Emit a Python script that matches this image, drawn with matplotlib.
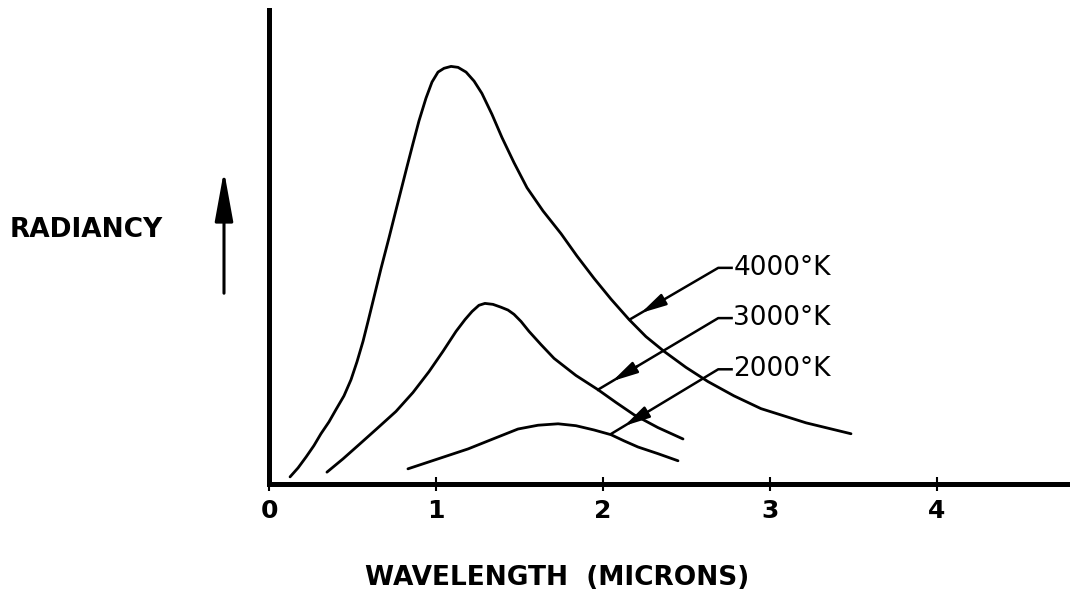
import matplotlib
matplotlib.use("Agg")
import matplotlib.pyplot as plt
from matplotlib.patches import FancyArrowPatch

# Curves: wavelength (microns) vs radiancy (arbitrary units)
wl_4000 = [0.126, 0.174, 0.222, 0.269, 0.311, 0.359, 0.401, 0.449, 0.491, 0.527,
           0.563, 0.593, 0.623, 0.671, 0.719, 0.754, 0.790, 0.826, 0.862, 0.898,
           0.940, 0.976, 1.012, 1.048, 1.090, 1.132, 1.180, 1.228, 1.275, 1.335,
           1.395, 1.467, 1.545, 1.641, 1.749, 1.844, 1.946, 2.048, 2.156, 2.257,
           2.365, 2.497, 2.629, 2.784, 2.946, 3.216, 3.485]
rad_4000 = [1.5, 3.4, 5.7, 8.1, 10.6, 13.1, 15.7, 18.6, 22.0, 25.8,
            30.1, 34.3, 38.6, 45.5, 52.0, 56.9, 61.9, 66.9, 71.8, 76.6,
            81.4, 84.8, 86.9, 87.7, 88.1, 87.9, 86.9, 85.0, 82.4, 78.0,
            73.1, 67.8, 62.5, 57.6, 52.8, 48.1, 43.4, 39.0, 34.7, 31.1,
            28.0, 24.6, 21.6, 18.6, 15.9, 12.9, 10.6]

wl_3000 = [0.347, 0.443, 0.539, 0.647, 0.760, 0.862, 0.958, 1.042, 1.120, 1.174,
           1.216, 1.257, 1.293, 1.341, 1.389, 1.431, 1.467, 1.509, 1.557, 1.629,
           1.707, 1.838, 1.970, 2.078, 2.186, 2.329, 2.479]
rad_3000 = [2.5, 5.3, 8.3, 11.7, 15.3, 19.3, 23.7, 28.0, 32.2, 34.7,
            36.4, 37.7, 38.1, 37.9, 37.3, 36.7, 35.8, 34.3, 32.2, 29.4,
            26.5, 22.9, 19.9, 17.2, 14.6, 11.9, 9.5]

wl_2000 = [0.832, 1.012, 1.192, 1.341, 1.491, 1.611, 1.731, 1.838, 1.946, 2.048,
           2.126, 2.210, 2.329, 2.449]
rad_2000 = [3.2, 5.3, 7.4, 9.5, 11.6, 12.4, 12.7, 12.3, 11.4, 10.4,
            9.1, 7.8, 6.4, 4.9]

labels = ["4000°K", "3000°K", "2000°K"]
label_tips = [(2.16, 34.7), (1.97, 19.9), (2.05, 10.6)]
label_y = [45.6, 35.0, 24.2]
xticks = [0, 1, 2, 3, 4]

INK = "black"

fig = plt.figure(figsize=(10.70, 5.98), dpi=100)
ax = fig.add_axes([269 / 1070, 114 / 598, 801 / 1070, 474 / 598])

for wl, rad in [(wl_4000, rad_4000), (wl_3000, rad_3000), (wl_2000, rad_2000)]:
    ax.plot(wl, rad, color=INK, lw=2.0, solid_capstyle="round", solid_joinstyle="round")

ax.set_xlim(0, 801 / 167)
ax.set_ylim(0, 100)

for spine in ["top", "right"]:
    ax.spines[spine].set_visible(False)
for spine in ["left", "bottom"]:
    ax.spines[spine].set_linewidth(3.6)
    ax.spines[spine].set_color(INK)

ax.set_xticks(xticks)
ax.set_xticklabels([str(t) for t in xticks], fontsize=18, fontweight="bold")
ax.tick_params(axis="x", direction="inout", length=10, width=1.5, pad=6, colors=INK)
ax.set_yticks([])

# leader lines with arrowheads to each curve
corner_x = 2.69
text_x = 2.78
for lab, (tx, ty), ly in zip(labels, label_tips, label_y):
    ax.plot([tx, corner_x, text_x - 0.01], [ty, ly, ly], color=INK, lw=1.8)
    dx, dy = corner_x - tx, ly - ty
    ax.annotate("", xy=(tx + 0.1 * dx, ty + 0.1 * dy), xytext=(tx + 0.35 * dx, ty + 0.35 * dy),
                arrowprops=dict(arrowstyle="-|>,head_width=0.22,head_length=0.9",
                                color=INK, lw=1.8, mutation_scale=17))
    ax.text(text_x, ly, lab, fontsize=19, va="center", ha="left", color=INK)

fig.text(10 / 1070, 1 - 230 / 598, "RADIANCY", fontsize=19, fontweight="bold",
         va="center", ha="left", color=INK)
fig.patches.append(FancyArrowPatch(
    (224 / 1070, 1 - 296 / 598), (224 / 1070, 1 - 168 / 598), transform=fig.transFigure,
    arrowstyle="-|>,head_width=0.2,head_length=1.1", mutation_scale=28, lw=2.2, color=INK))

fig.text(557 / 1070, 1 - 578 / 598, "WAVELENGTH  (MICRONS)", fontsize=19, fontweight="bold",
         va="center", ha="center", color=INK)

fig.savefig("out.png", dpi=100, facecolor="white")
